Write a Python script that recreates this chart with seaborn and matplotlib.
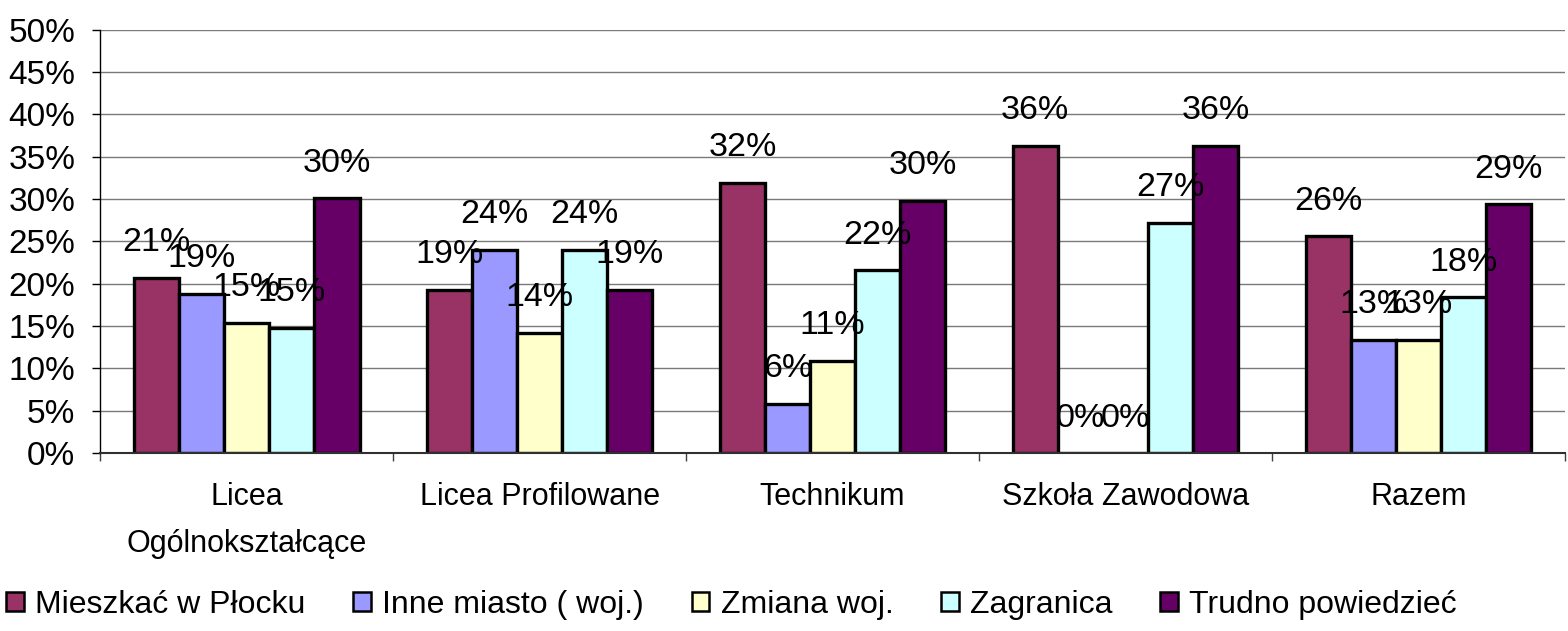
import pandas as pd
import seaborn as sns
import matplotlib.pyplot as plt
from matplotlib.ticker import FuncFormatter, FixedLocator

# data (percent)
kategorie = ['Licea\nOgólnokształcące', 'Licea Profilowane', 'Technikum',
             'Szkoła Zawodowa', 'Razem']
serie = ['Mieszkać w Płocku', 'Inne miasto ( woj.)', 'Zmiana woj.',
         'Zagranica', 'Trudno powiedzieć']
mieszkac_plock = [20.7, 19.3, 31.9, 36.3, 25.6]
inne_miasto = [18.8, 24.0, 5.8, 0.0, 13.4]
zmiana_woj = [15.4, 14.2, 10.9, 0.0, 13.4]
zagranica = [14.8, 24.0, 21.6, 27.2, 18.4]
trudno = [30.1, 19.3, 29.8, 36.3, 29.4]
kolory = ['#993366', '#9999FF', '#FFFFCC', '#CCFFFF', '#660066']

wartosci = [mieszkac_plock, inne_miasto, zmiana_woj, zagranica, trudno]
df = pd.DataFrame({
    'kategoria': [k for _ in serie for k in kategorie],
    'seria': [s for s in serie for _ in kategorie],
    'wartosc': [v for w in wartosci for v in w],
})

sns.set_theme(style='white')
plt.rcParams['font.family'] = ['Liberation Sans', 'DejaVu Sans']
plt.rcParams['text.color'] = 'black'
plt.rcParams['xtick.labelcolor'] = 'black'
plt.rcParams['ytick.labelcolor'] = 'black'

fig = plt.figure(figsize=(15.68, 6.31), dpi=100)
ax = fig.add_axes([0.064, 0.282, 0.934, 0.671])

sns.barplot(data=df, x='kategoria', y='wartosc', hue='seria', order=kategorie,
            hue_order=serie, palette=kolory, width=0.77, gap=0,
            edgecolor='black', linewidth=2.4, saturation=1, ax=ax)

for cont, w in zip(ax.containers, wartosci):
    ax.bar_label(cont, labels=[f'{v:.0f}%' for v in w], padding=14,
                 fontsize=24.5, color='black')

ax.set_ylim(0, 50)
ax.set_xlim(-0.5, 4.5)
ax.set_yticks(range(0, 51, 5))
ax.yaxis.set_major_formatter(FuncFormatter(lambda v, p: f'{v:.0f}%'))
ax.grid(axis='y', color='#7a7a7a', linewidth=1)
ax.set_axisbelow(True)
ax.set_xlabel('')
ax.set_ylabel('')

# category labels without ticks; boundary ticks between groups
ax.tick_params(axis='x', length=0, pad=21, labelsize=22)
ax.xaxis.set_minor_locator(FixedLocator([-0.5, 0.5, 1.5, 2.5, 3.5, 4.5]))
ax.tick_params(axis='x', which='minor', length=6, width=1, color='#404040',
               direction='out', bottom=True)
ax.tick_params(axis='y', length=6, width=1, color='black', direction='out',
               left=True, pad=12, labelsize=24)
for t in ax.get_xticklabels():
    t.set_linespacing(1.75)

for s in ['top', 'right']:
    ax.spines[s].set_visible(False)
ax.spines['left'].set_color('black')
ax.spines['bottom'].set_color('#303030')
ax.spines['left'].set_linewidth(1)
ax.spines['bottom'].set_linewidth(1.5)

handles, labels = ax.get_legend_handles_labels()
for h in handles:
    h.set_edgecolor('black')
    h.set_linewidth(1.8)
ax.legend(handles, labels, loc='center left', bbox_to_anchor=(0.0, 0.041),
          bbox_transform=fig.transFigure, ncol=5, frameon=False, fontsize=23,
          handlelength=0.55, handleheight=0.55, handletextpad=0.35,
          columnspacing=1.5, borderaxespad=0, borderpad=0.2)

fig.savefig('out.png', dpi=100)
